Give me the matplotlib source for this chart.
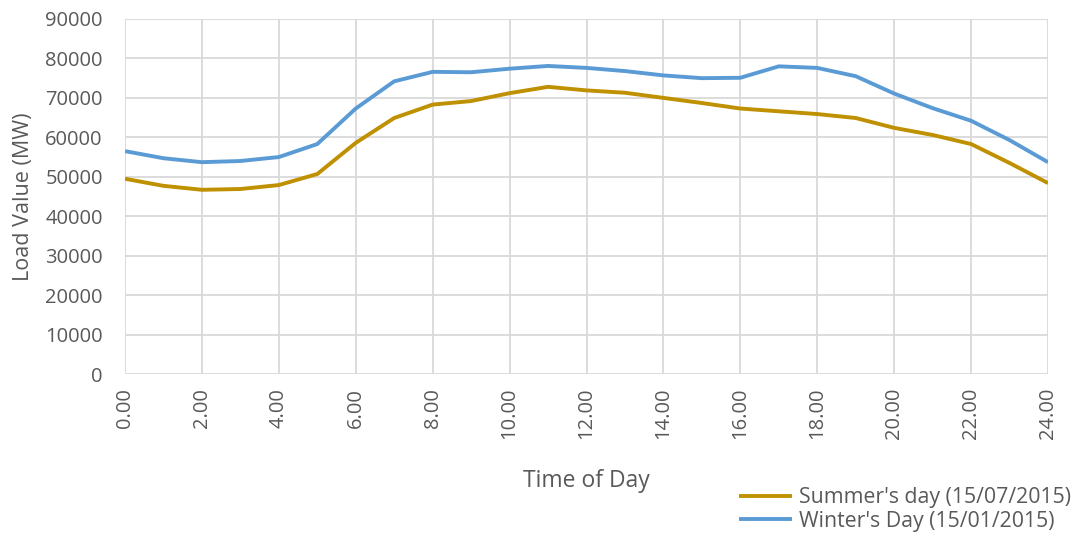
import matplotlib
matplotlib.use("Agg")
import matplotlib.pyplot as plt
import numpy as np

plt.rcParams['font.family'] = ['Open Sans', 'DejaVu Sans']

hours = list(range(25))
summer = [49500, 47700, 46700, 46900, 47900, 50700, 58600, 64900, 68300, 69200,
          71200, 72800, 71900, 71300, 70000, 68700, 67300, 66600, 65900, 64900,
          62400, 60600, 58300, 53500, 48400]
winter = [56500, 54700, 53700, 54000, 55000, 58300, 67300, 74200, 76600, 76500,
          77400, 78100, 77600, 76800, 75700, 75000, 75100, 78000, 77600, 75500,
          71100, 67400, 64200, 59300, 53700]
x_ticks = list(range(0, 25, 2))
x_labels = ["%d.00" % t for t in x_ticks]
y_ticks = list(range(0, 90001, 10000))

summer_color = "#BF9000"
winter_color = "#5B9BD5"
text_color = "#595959"
grid_color = "#D9D9D9"

fig = plt.figure(figsize=(10.8, 5.37), dpi=100)
ax = fig.add_axes([125/1080, 1-374/537, (1048-125)/1080, (374-19)/537])

ax.plot(hours, summer, color=summer_color, lw=2.8, label="Summer's day (15/07/2015)", solid_capstyle='butt')
ax.plot(hours, winter, color=winter_color, lw=2.8, label="Winter's Day (15/01/2015)", solid_capstyle='butt')

ax.set_xlim(0, 24)
ax.set_ylim(0, 90000)
ax.set_xticks(x_ticks)
ax.set_xticklabels(x_labels, rotation=90)
ax.set_yticks(y_ticks)
ax.set_yticklabels([str(v) for v in y_ticks])
ax.grid(True, color=grid_color, lw=1.3)
ax.set_axisbelow(True)
for s in ax.spines.values():
    s.set_visible(False)
ax.tick_params(axis='both', length=0, labelsize=14.5, colors=text_color)
ax.tick_params(axis='x', pad=10)
ax.tick_params(axis='y', pad=16)

ax.set_xlabel("Time of Day", fontsize=16.5, color=text_color, labelpad=21)
ax.set_ylabel("Load Value (MW)", fontsize=15.5, color=text_color, labelpad=8)

leg = fig.legend(loc='lower right', bbox_to_anchor=(1075/1080, 1/537), frameon=False,
                 fontsize=15.3, labelcolor=text_color, handlelength=2.5,
                 handletextpad=0.33, labelspacing=0.12, borderaxespad=0.0, borderpad=0.2)

fig.savefig("out.png", dpi=100)
